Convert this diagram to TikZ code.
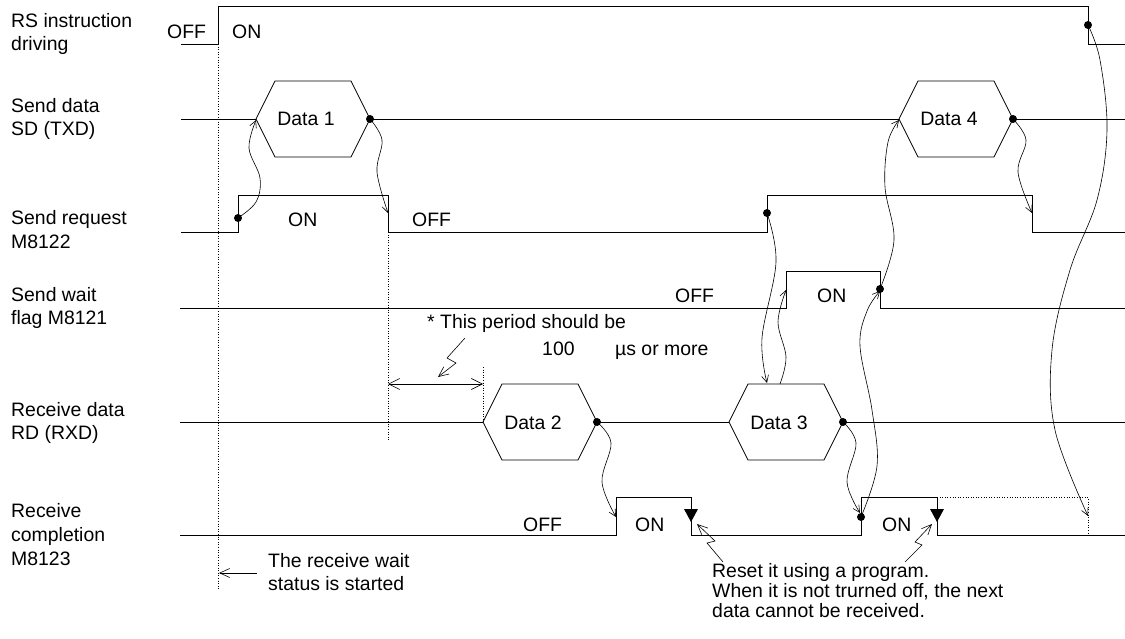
\documentclass[tikz,border=0pt]{standalone}
\usepackage{fontspec}
\setmainfont{Liberation Sans}
\usetikzlibrary{arrows.meta}
\newcommand\datahex[4]{%
  \coordinate (#1L) at (#2,#3);
  \coordinate (#1R) at ({#2+114},#3);
  \draw[sig] (#1L) -- ++(19,-38) -- ++(76,0) -- ++(19,38) -- ++(-19,38) -- ++(-76,0) -- cycle;
  \node[dlab] (#1) at ({#2+50},{#3+7}) {#4};}
\begin{document}
\begin{tikzpicture}[x=1bp,y=-1bp,
  sig/.style={line width=0.8bp, line join=miter},
  dots/.style={line width=0.6bp, dotted},
  cur/.style={line width=0.6bp, -{Straight Barb[length=7bp,width=7bp,line width=0.6bp]}},
  zz/.style={line width=0.6bp, -{Straight Barb[length=10bp,width=9bp,line width=0.6bp]}},
  txt/.style={anchor=base west, inner sep=0pt, font=\fontsize{19.5}{23}\selectfont},
  dlab/.style={anchor=base, inner sep=0pt, font=\fontsize{19.5}{23}\selectfont},
  dot/.style={circle, fill=black, inner sep=0pt, minimum size=8bp},
]
\useasboundingbox (0,0) rectangle (1125,639);

% ---------- left labels
\node[txt] (l1a) at (11,28) {RS instruction};
\node[txt] (l1b) at (11,51) {driving};
\node[txt] (l2a) at (11,113) {Send data};
\node[txt] (l2b) at (11,136) {SD (TXD)};
\node[txt] (l3a) at (11,225) {Send request};
\node[txt] (l3b) at (11,249) {M8122};
\node[txt] (l4a) at (11,302) {Send wait};
\node[txt] (l4b) at (11,325) {flag M8121};
\node[txt] (l5a) at (11,416) {Receive data};
\node[txt] (l5b) at (11,439) {RD (RXD)};
\node[txt] (l6a) at (11,517) {Receive};
\node[txt] (l6b) at (11,541) {completion};
\node[txt] (l6c) at (11,565) {M8123};

% ---------- dotted guide lines
\draw[dots] (218,44) -- (218,590);
\draw[dots] (388,232) -- (388,440);
\draw[dots] (483,367) -- (483,422);

% ---------- row 1: RS instruction driving
\draw[sig] (181,44) -- (218,44) -- (218,6) -- (1088,6) -- (1088,44) -- (1125,44);
\node[txt] (off1) at (167,39) {OFF};
\node[txt] (on1) at (232,39) {ON};

% ---------- row 2: send data
\datahex{h1}{256}{119}{Data 1}
\datahex{h4}{899}{119}{Data 4}
\draw[sig] (181,119) -- (h1L);
\draw[sig] (h1R) -- (h4L);
\draw[sig] (h4R) -- (1125,119);

% ---------- row 3: send request
\draw[sig] (181,232) -- (238,232) -- (238,195) -- (388,195) -- (388,232) -- (767,232)
  -- (767,195) -- (1032,195) -- (1032,232) -- (1125,232);
\node[txt] (on3) at (288,227) {ON};
\node[txt] (off3) at (412,227) {OFF};

% ---------- row 4: send wait flag
\draw[sig] (180,308) -- (786,308) -- (786,271) -- (880,271) -- (880,308) -- (1125,308);
\node[txt] (off4) at (675,303) {OFF};
\node[txt] (on4) at (817,303) {ON};

% ---------- row 5: receive data
\datahex{h2}{483}{422}{Data 2}
\datahex{h3}{729}{422}{Data 3}
\draw[sig] (180,422) -- (h2L);
\draw[sig] (h2R) -- (h3L);
\draw[sig] (h3R) -- (1125,422);

% ---------- row 6: receive completion
\draw[sig] (180,535) -- (616,535) -- (616,497) -- (691,497) -- (691,535) -- (861,535)
  -- (861,497) -- (937,497) -- (937,535) -- (1125,535);
\draw[dots] (937,497) -- (1088,497) -- (1088,535);
\fill (684,509) -- (698,509) -- (691,522) -- cycle;
\fill (930,509) -- (944,509) -- (937,522) -- cycle;
\node[txt] (off6) at (523,531) {OFF};
\node[txt] (on6a) at (635,531) {ON};
\node[txt] (on6b) at (882,531) {ON};

% ---------- dots
\node[dot] (d1) at (238,218) {};
\node[dot] (d2) at (h1R) {};
\node[dot] (d3) at (767,213) {};
\node[dot] (d4) at (880,289) {};
\node[dot] (d5) at (h4R) {};
\node[dot] (d6) at (h2R) {};
\node[dot] (d7) at (h3R) {};
\node[dot] (d8) at (861,517) {};
\node[dot] (d9) at (1088,25) {};

% ---------- target points
\coordinate (t1) at (256,120);
\coordinate (t2) at (388,213);
\coordinate (t3) at (767,383);
\coordinate (s4) at (780,384);
\coordinate (t4) at (786,290);
\coordinate (t5) at (899,120);
\coordinate (t6) at (1032,213);
\coordinate (t7) at (616,517);
\coordinate (t8) at (860,513);
\coordinate (t9) at (880,291);
\coordinate (t10) at (1088,516);

% ---------- causal curves
\draw[cur] plot[smooth, tension=0.6] coordinates {(d1.center) (256,202) (260,178) (249,148) (t1)};
\draw[cur] plot[smooth, tension=0.6] coordinates {(d2.center) (382,140) (377,172) (t2)};
\draw[cur] plot[smooth, tension=0.6] coordinates {(d3.center) (776,262) (762,338) (t3)};
\draw[cur] plot[smooth, tension=0.6] coordinates {(s4) (786,357) (778,322) (t4)};
\draw[cur] plot[smooth, tension=0.6] coordinates {(d4.center) (894,240) (885,187) (888,142) (t5)};
\draw[cur] plot[smooth, tension=0.6] coordinates {(d5.center) (1026,140) (1018,172) (t6)};
\draw[cur] plot[smooth, tension=0.6] coordinates {(d6.center) (611,443) (602,482) (t7)};
\draw[cur] plot[smooth, tension=0.6] coordinates {(d7.center) (856,443) (847,482) (t8)};
\draw[cur] plot[smooth, tension=0.6] coordinates {(d8.center) (877,466) (872,410) (860,346) (867,311) (t9)};
\draw[cur] plot[smooth, tension=0.6] coordinates {(d9.center) (1100,60) (1107,130) (1097,200) (1070,270) (1052,350) (1055,430) (t10)};

% ---------- period annotation
\coordinate (pa) at (388,384);
\coordinate (pb) at (483,384);
\draw[line width=0.6bp, {Straight Barb[length=11bp,width=11bp,line width=0.6bp]}-{Straight Barb[length=11bp,width=11bp,line width=0.6bp]}] (pa) -- (pb);
\draw[zz] (465,338) -- (447,358) -- (456,363) -- (438,377);
\node[txt] (np1) at (427,329) {* This period should be};
\node[txt] (np2) at (542,355) {100};
\node[txt] (np3) at (615,355) {µs or more};

% ---------- receive wait annotation
\coordinate (rw1) at (257,573);
\coordinate (rw2) at (219,573);
\draw[zz] (rw1) -- (rw2);
\node[txt] (nw1) at (268,567) {The receive wait};
\node[txt] (nw2) at (268,590) {status is started};

% ---------- reset annotation
\draw[zz] (723,562) -- (707,543) -- (715,541) -- (697,524);
\draw[zz] (905,562) -- (922,545) -- (915,542) -- (932,524);
\node[txt] (nr1) at (712,577) {Reset it using a program.};
\node[txt] (nr2) at (712,597) {When it is not trurned off, the next};
\node[txt] (nr3) at (712,617) {data cannot be received.};
\end{tikzpicture}
\end{document}
